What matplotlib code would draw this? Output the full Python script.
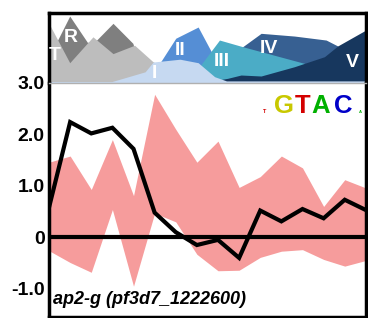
import matplotlib
matplotlib.use('Agg')
import matplotlib.pyplot as plt

plt.rcParams['font.family'] = ['Liberation Sans', 'DejaVu Sans']

# ---- main panel data (16 time points) ----
t = list(range(16))
expr = [0.58, 2.24, 2.02, 2.13, 1.72, 0.48, 0.10, -0.15, -0.05, -0.40, 0.52, 0.31, 0.55, 0.37, 0.73, 0.53]
band_hi = [1.46, 1.58, 0.93, 1.90, 0.81, 2.78, 2.10, 1.46, 1.87, 0.97, 1.18, 1.58, 1.35, 0.60, 1.12, 0.96]
band_lo = [-0.26, -0.49, -0.68, 0.54, -0.95, 0.47, 0.30, -0.33, -0.65, -0.64, -0.39, -0.27, -0.24, -0.43, -0.56, -0.45]
yticks = [3.0, 2.0, 1.0, 0, -1.0]
ytick_labels = ['3.0', '2.0', '1.0', '0', '-1.0']
gene = 'ap2-g (pf3d7_1222600)'

# ---- stage profile layers (top strip) ----
r_x = [0, 0.98, 1.82, 2.24, 3.03, 3.97, 4.5]
r_y = [0.37, 0.957, 0.58, 0.61, 0.853, 0.567, 0.0]
t_x = [0, 0.98, 2.08, 3.03, 4.05, 4.9, 6.0, 7.0]
t_y = [0.85, 0.29, 0.66, 0.42, 0.54, 0.31, 0.10, 0.0]
ii_x = [4.8, 5.32, 6.0, 7.06, 7.68, 8.3]
ii_y = [0.10, 0.32, 0.64, 0.80, 0.45, 0.10]
iv_x = [8.0, 8.5, 9.17, 10.04, 11.62, 13.12, 13.67, 14.2, 15.0]
iv_y = [0.0, 0.30, 0.519, 0.71, 0.671, 0.614, 0.529, 0.33, 0.20]
iii_x = [6.9, 7.21, 8.07, 9.17, 12.1, 12.6]
iii_y = [0.0, 0.27, 0.614, 0.519, 0.28, 0.0]
v_x = [7.37, 8.46, 9.09, 10.04, 11.62, 13.04, 13.67, 15.0]
v_y = [0.01, 0.067, 0.114, 0.10, 0.233, 0.376, 0.53, 0.757]
i_x = [0, 2.97, 4.55, 4.93, 6.2, 7.06, 7.84, 8.4, 15.0]
i_y = [0.02, 0.02, 0.16, 0.30, 0.34, 0.29, 0.09, 0.03, 0.03]

stage_labels = ['T', 'R', 'I', 'II', 'III', 'IV', 'V']
label_x = [0.26, 1.05, 5.0, 6.23, 8.16, 10.43, 14.38]
label_y = [0.40, 0.646, 0.13, 0.46, 0.31, 0.495, 0.29]

logo_letters = ['G', 'T', 'A', 'C']
logo_colors = ['#c8c800', '#d40000', '#00b000', '#0000c8']
logo_x = [11.12, 11.98, 12.86, 13.92]

fig = plt.figure(figsize=(3.68, 3.18), dpi=100)
ax_top = fig.add_axes([0.1332, 0.739, 0.861, 0.22])
ax = fig.add_axes([0.1332, 0.003, 0.861, 0.736])

# top strip: overlapping stage areas
layers = [
    (r_x, r_y, '#7f7f7f'),
    (t_x, t_y, '#bdbdbd'),
    (ii_x, ii_y, '#558ed5'),
    (iv_x, iv_y, '#376092'),
    (iii_x, iii_y, '#4bacc6'),
    (v_x, v_y, '#17375e'),
    (i_x, i_y, '#c6d9f1'),
]
for xs, ys, col in layers:
    ax_top.fill_between(xs, 0, ys, color=col, lw=0)
for lab, lx, ly in zip(stage_labels, label_x, label_y):
    ax_top.text(lx, ly, lab, color='white', fontsize=14, fontweight='bold',
                ha='center', va='center')
ax_top.set_xlim(0, 15)
ax_top.set_ylim(0, 1)
ax_top.set_xticks([])
ax_top.set_yticks([])
for side in ['top', 'left', 'right']:
    ax_top.spines[side].set_linewidth(2.5)
ax_top.spines['bottom'].set_visible(False)

# main panel
ax.fill_between(t, band_lo, band_hi, color='#f69c9c', lw=0)
ax.axhline(0, color='black', lw=3)
ax.plot(t, expr, color='black', lw=3, solid_joinstyle='miter')
ax.set_xlim(0, 15)
ax.set_ylim(-1.55, 2.97)
ax.set_xticks([])
ax.set_yticks(yticks)
ax.set_yticklabels(ytick_labels, fontsize=14, fontweight='bold')
ax.tick_params(axis='y', length=0, pad=3)
for side in ['left', 'right', 'bottom']:
    ax.spines[side].set_linewidth(2.5)
ax.spines['top'].set_color('#b0b0b0')
ax.spines['top'].set_linewidth(1)

ax.text(0.013, 0.073, gene, transform=ax.transAxes, fontsize=13,
        fontweight='bold', fontstyle='italic', ha='left', va='center')

# motif logo
for let, col, lx in zip(logo_letters, logo_colors, logo_x):
    ax.text(lx, 2.418, let, color=col, fontsize=18.5, fontweight='bold',
            ha='center', va='baseline')
ax.text(10.22, 2.418, 'T', color='#d40000', fontsize=4, fontweight='bold',
        ha='center', va='baseline')
ax.text(14.75, 2.418, 'A', color='#00b000', fontsize=3, fontweight='bold',
        ha='center', va='baseline')

fig.savefig('out.png', dpi=100)
